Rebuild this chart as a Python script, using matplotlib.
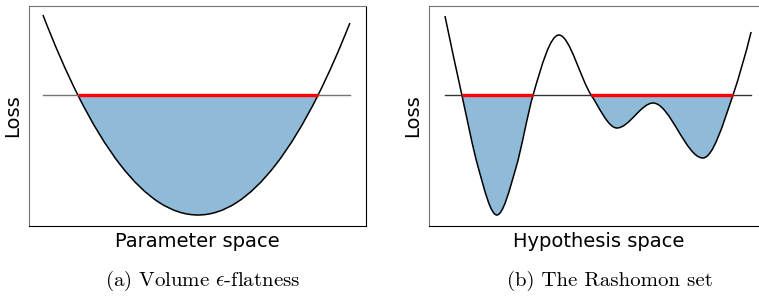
import numpy as np
import matplotlib
matplotlib.use('Agg')
import matplotlib.pyplot as plt
from matplotlib.path import Path
from matplotlib.patches import PathPatch, Rectangle

plt.rcParams['mathtext.fontset'] = 'cm'

# (a) parameter space: knots of the loss curve
param_x = [-1.0, -0.775, -0.5, -0.25, 0.0, 0.25, 0.5, 0.775, 0.98]
param_loss = [1.0, 0.6, 0.25, 0.0625, 0.0, 0.0625, 0.25, 0.6, 0.96]

# (b) hypothesis space: knots of the loss curve
hyp_x = [0.000, 0.055, 0.107, 0.169, 0.231, 0.287, 0.371, 0.476, 0.560,
         0.678, 0.840, 0.938, 0.997]
hyp_loss = [0.995, 0.600, 0.245, 0.000, 0.235, 0.600, 0.900, 0.600, 0.435,
            0.560, 0.285, 0.600, 0.915]

threshold = 0.6
xlabels = ['Parameter space', 'Hypothesis space']
captions = ['(a) Volume $\\epsilon$-flatness', '(b) The Rashomon set']

FILL = '#8fbbd9'


def tangents(x, y):
    # three point slopes, flattened at the knots that are extrema
    h = np.diff(x)
    d = np.diff(y) / h
    m = np.zeros(len(x))
    for k in range(1, len(x) - 1):
        if d[k - 1] * d[k] <= 0:
            m[k] = 0.0
        else:
            m[k] = (h[k] * d[k - 1] + h[k - 1] * d[k]) / (h[k - 1] + h[k])
            lim = 3 * min(abs(d[k - 1]), abs(d[k]))
            m[k] = np.sign(m[k]) * min(abs(m[k]), lim)
    m[0] = ((2 * h[0] + h[1]) * d[0] - h[0] * d[1]) / (h[0] + h[1])
    m[-1] = ((2 * h[-1] + h[-2]) * d[-1] - h[-1] * d[-2]) / (h[-1] + h[-2])
    return m


def curve_path(x, y, top=None):
    x = np.asarray(x, float)
    y = np.asarray(y, float)
    m = tangents(x, y)
    verts, codes = [], []
    if top is not None:
        verts += [(x[0], top), (x[0], y[0])]
        codes += [Path.MOVETO, Path.LINETO]
    else:
        verts.append((x[0], y[0]))
        codes.append(Path.MOVETO)
    for i in range(len(x) - 1):
        h = x[i + 1] - x[i]
        verts += [(x[i] + h / 3, y[i] + m[i] * h / 3),
                  (x[i + 1] - h / 3, y[i + 1] - m[i + 1] * h / 3),
                  (x[i + 1], y[i + 1])]
        codes += [Path.CURVE4] * 3
    if top is not None:
        verts += [(x[-1], top), (x[0], top)]
        codes += [Path.LINETO, Path.CLOSEPOLY]
    return Path(verts, codes)


def below_spans(x, y, thr):
    x = np.asarray(x, float)
    d = np.asarray(y, float) - thr
    below = d < 0
    pts = []
    for i in range(len(x) - 1):
        if below[i] != below[i + 1]:
            pts.append(x[i] - d[i] * (x[i + 1] - x[i]) / (d[i + 1] - d[i]))
    return list(zip(pts[0::2], pts[1::2]))


def draw(ax, x, y, line_color):
    fill = PathPatch(curve_path(x, y, top=5.0), facecolor=FILL, lw=0)
    ax.add_patch(fill)
    clip = Rectangle((x[0], -5.0), x[-1] - x[0], threshold + 5.0,
                     transform=ax.transData)
    fill.set_clip_path(clip)
    ax.plot([x[0], x[-1]], [threshold, threshold], color=line_color, lw=1.0)
    for a, b in below_spans(x, y, threshold):
        ax.plot([a, b], [threshold, threshold], color='red', lw=2.4,
                solid_capstyle='butt')
    ax.add_patch(PathPatch(curve_path(x, y), fill=False, edgecolor='black',
                           lw=1.1))
    ax.set_xticks([])
    ax.set_yticks([])
    ax.set_ylabel('Loss', fontsize=14, labelpad=5)
    for side in ['left', 'top']:
        ax.spines[side].set_color('0.45')
    for side in ['right', 'bottom']:
        ax.spines[side].set_color('black')


fig = plt.figure(figsize=(7.59, 2.97), dpi=100)
ax1 = fig.add_axes([29 / 759, 71 / 297, 337 / 759, 220 / 297])
ax2 = fig.add_axes([429 / 759, 71 / 297, 339 / 759, 220 / 297])

draw(ax1, param_x, param_loss, '0.45')
ax1.set_xlim(-1.09, 1.084)
ax1.set_ylim(-0.055, 1.045)
ax1.set_xlabel(xlabels[0], fontsize=14, labelpad=4)

draw(ax2, hyp_x, hyp_loss, '0.2')
ax2.set_xlim(-0.052, 1.052)
ax2.set_ylim(-0.055, 1.045)
ax2.set_xlabel(xlabels[1], fontsize=14, labelpad=4)

fig.text(203 / 759, 0.055, captions[0], family='cmr10', fontsize=15,
         ha='center', va='center')
fig.text(610 / 759, 0.055, captions[1], family='cmr10', fontsize=15,
         ha='center', va='center')

fig.savefig('out.png', dpi=100)
